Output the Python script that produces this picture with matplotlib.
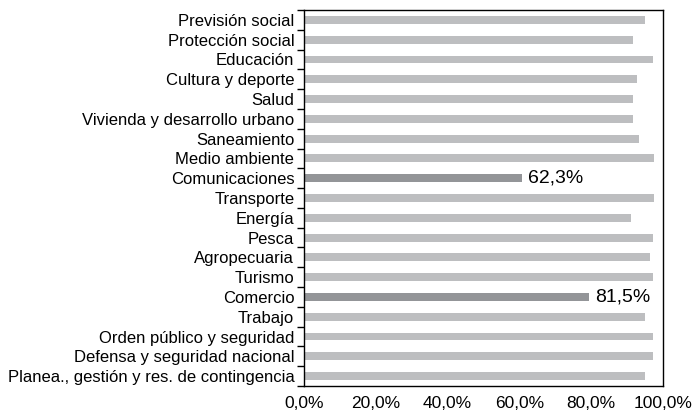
import matplotlib
matplotlib.use('Agg')
import matplotlib.pyplot as plt
import numpy as np

# categories, top to bottom
categories = ['Previsión social', 'Protección social', 'Educación', 'Cultura y deporte',
              'Salud', 'Vivienda y desarrollo urbano', 'Saneamiento', 'Medio ambiente',
              'Comunicaciones', 'Transporte', 'Energía', 'Pesca', 'Agropecuaria',
              'Turismo', 'Comercio', 'Trabajo', 'Orden público y seguridad',
              'Defensa y seguridad nacional', 'Planea., gestión y res. de contingencia']
# bar lengths as drawn (%)
values = [95.1, 91.6, 97.3, 92.8, 91.6, 91.6, 93.4, 97.6, 60.7, 97.6,
          91.2, 97.3, 96.5, 97.3, 79.4, 95.1, 97.3, 97.3, 95.1]
# labelled bars
labels = {'Comunicaciones': '62,3%', 'Comercio': '81,5%'}
xticks = [0, 20, 40, 60, 80, 100]
xticklabels = ['0,0%', '20,0%', '40,0%', '60,0%', '80,0%', '100,0%']

plt.rcParams['font.family'] = ['Liberation Sans', 'DejaVu Sans']

fig = plt.figure(figsize=[6.92, 4.12], dpi=100)
ax = fig.add_axes([304 / 692, 26 / 412, 359 / 692, 376 / 412])

y = np.arange(len(categories))
colors = ['#939598' if c in labels else '#bdbec0' for c in categories]
ax.barh(y, values, height=0.4, color=colors)

for yi, c, v in zip(y, categories, values):
    if c in labels:
        ax.text(v + 1.8, yi, labels[c], va='center', ha='left', fontsize=14)

ax.set_xlim(0, 100)
ax.set_ylim(len(categories) - 0.5, -0.5)

# y ticks between categories, labels centered on bars
ax.set_yticks(np.arange(len(categories) + 1) - 0.5)
ax.set_yticklabels([])
ax.set_yticks(y, minor=True)
ax.set_yticklabels(categories, minor=True, fontsize=12)
ax.tick_params(axis='y', which='major', length=5, width=1, direction='out')
ax.tick_params(axis='y', which='minor', length=0, pad=7)

# x ticks: labels at every 20%, marks only at the ends
ax.set_xticks(xticks)
ax.set_xticklabels(xticklabels, fontsize=12.5)
ax.set_xticks([0, 100], minor=True)
ax.tick_params(axis='x', which='major', length=0, pad=7)
ax.tick_params(axis='x', which='minor', length=5, width=1)

for s in ax.spines.values():
    s.set_linewidth(1)
    s.set_color('black')

plt.savefig('out.png', dpi=100)
